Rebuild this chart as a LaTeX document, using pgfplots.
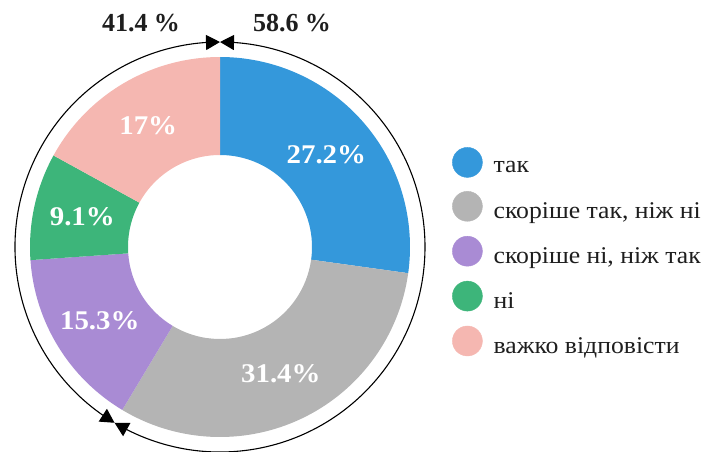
\documentclass[border=0pt]{standalone}
\usepackage{pgfplots}
\usepackage{pgfplotstable}
\pgfplotsset{compat=1.18}
\usetikzlibrary{arrows.meta,bending}
\usepackage{fontspec}
\setmainfont{Liberation Serif}
\newfontfamily\widefont[FakeStretch=1.07]{Liberation Serif}
\definecolor{cA}{HTML}{3498DB}
\definecolor{cB}{HTML}{B4B4B4}
\definecolor{cC}{HTML}{A98BD4}
\definecolor{cD}{HTML}{3DB57A}
\definecolor{cE}{HTML}{F5B7B1}
\definecolor{txt}{HTML}{1E1E1E}
\pgfplotstableread{
idx value
0 27.2
1 31.4
2 15.3
3 9.1
4 17
}\donut
\begin{document}
\begin{tikzpicture}
\begin{axis}[at={(0,0)}, anchor=south west, x=1pt, y=1pt,
  xmin=0, xmax=701, ymin=0, ymax=451, hide axis, clip=false,
  legend cell align=left,
  legend style={draw=none, fill=none, at={(axis cs:452,304)}, anchor=north west,
    inner sep=0pt, row sep=13.5pt,
    font=\widefont\fontsize{24}{27}\selectfont, text=txt,
    /tikz/every odd column/.append style={column sep=9pt}}]
\addlegendimage{legend image code/.code={\fill[cA] (15pt,5.5pt) circle[radius=15pt];}}
\addlegendentry{так}
\addlegendimage{legend image code/.code={\fill[cB] (15pt,5.5pt) circle[radius=15pt];}}
\addlegendentry{скоріше так, ніж ні}
\addlegendimage{legend image code/.code={\fill[cC] (15pt,5.5pt) circle[radius=15pt];}}
\addlegendentry{скоріше ні, ніж так}
\addlegendimage{legend image code/.code={\fill[cD] (15pt,5.5pt) circle[radius=15pt];}}
\addlegendentry{ні}
\addlegendimage{legend image code/.code={\fill[cE] (15pt,5.5pt) circle[radius=15pt];}}
\addlegendentry{важко відповісти}
\pgfplotsextra{%
  \gdef\cum{0}%
  \begin{scope}[shift={(axis cs:220,204)}]
  \foreach \i/\col in {0/cA,1/cB,2/cC,3/cD,4/cE}{%
    \pgfplotstablegetelem{\i}{value}\of\donut
    \let\v\pgfplotsretval
    \pgfmathsetmacro\sa{90-3.6*\cum}%
    \pgfmathsetmacro\ea{90-3.6*(\cum+\v)}%
    \pgfmathsetmacro\ma{(\sa+\ea)/2}%
    \fill[\col] (\sa:190pt) arc[start angle=\sa, end angle=\ea, radius=190pt]
      -- (\ea:92pt) arc[start angle=\ea, end angle=\sa, radius=92pt] -- cycle;
    \node[text=white, font=\widefont\bfseries\fontsize{27}{30}\selectfont] at (\ma:141pt) {\v\%};
    \pgfmathsetmacro\newcum{\cum+\v}%
    \global\let\cum\newcum
  }%
  \draw[line width=1.1pt, {Triangle[length=14pt,width=15pt,flex]}-{Triangle[length=14pt,width=15pt,flex]}]
    (90:205pt) arc[start angle=90, end angle=-120.96, radius=205pt];
  \draw[line width=1.1pt, {Triangle[length=14pt,width=15pt,flex]}-{Triangle[length=14pt,width=15pt,flex]}]
    (-120.96:205pt) arc[start angle=-120.96, end angle=-270, radius=205pt];
  \end{scope}
  \node[text=txt, font=\bfseries\fontsize{26}{30}\selectfont] at (axis cs:141,428) {41.4 \%};
  \node[text=txt, font=\bfseries\fontsize{26}{30}\selectfont] at (axis cs:292,428) {58.6 \%};
}
\end{axis}
\pgfresetboundingbox
\path (0,0) rectangle (701pt,451pt);
\end{tikzpicture}
\end{document}
